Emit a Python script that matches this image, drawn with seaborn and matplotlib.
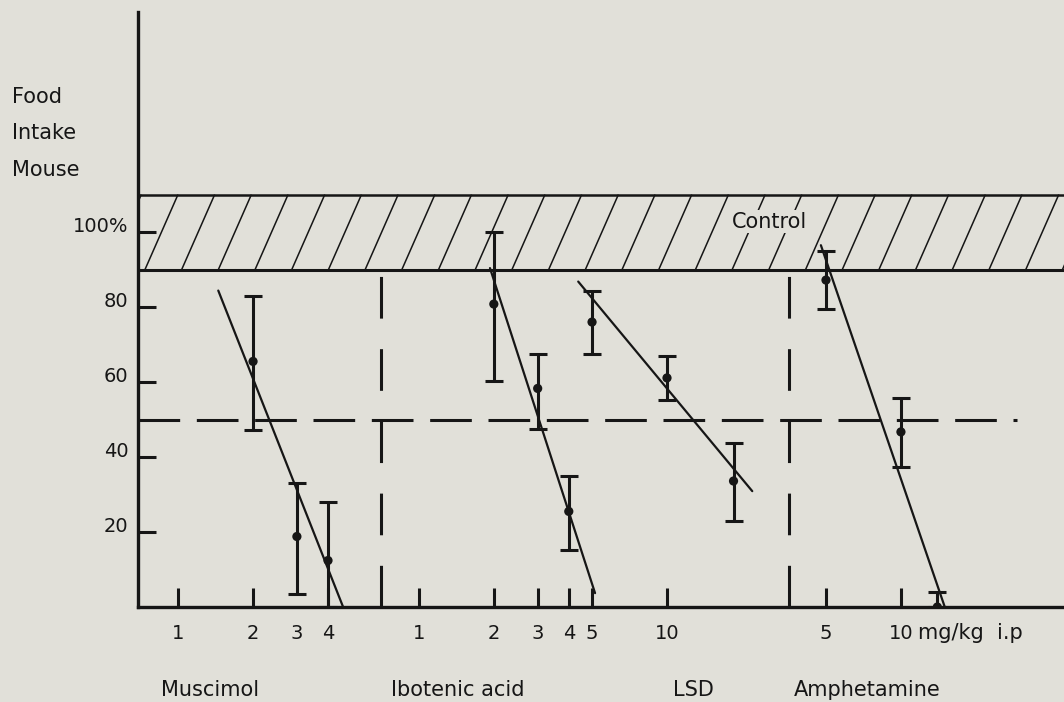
import numpy as np
import pandas as pd
import matplotlib
matplotlib.use("Agg")
import matplotlib.pyplot as plt
import matplotlib.transforms as mtransforms
from matplotlib.collections import LineCollection
import seaborn as sns

# ---------------- data ----------------
drugs = ["Muscimol", "Ibotenic acid", "LSD", "Amphetamine"]

muscimol_dose = [2, 3, 4]
muscimol_mean = [65.5, 18.8, 12.4]
muscimol_hi = [83.0, 33.1, 28.0]
muscimol_lo = [47.2, 3.5, 0.0]
muscimol_fit_dose = [1.45, 4.6]
muscimol_fit = [84.4, 0.0]

ibotenic_dose = [2, 3, 4]
ibotenic_mean = [80.8, 58.3, 25.5]
ibotenic_hi = [100.0, 67.5, 35.0]
ibotenic_lo = [60.2, 47.6, 15.3]
ibotenic_fit_dose = [1.93, 5.1]
ibotenic_fit = [90.4, 3.7]

lsd_dose = [5, 10, 18.5]
lsd_mean = [76.0, 61.1, 33.6]
lsd_hi = [84.4, 66.9, 43.7]
lsd_lo = [67.4, 55.2, 22.9]
lsd_fit_dose = [4.4, 22.0]
lsd_fit = [86.8, 30.9]

amph_dose = [5, 10, 14]
amph_mean = [87.2, 46.7, 0.0]
amph_hi = [94.9, 55.7, 4.0]
amph_lo = [79.5, 37.4, 0.0]
amph_fit_dose = [4.77, 15.0]
amph_fit = [96.5, 0.0]

muscimol_ticks = [1, 2, 3, 4]
ibotenic_ticks = [1, 2, 3, 4]
lsd_ticks = [5, 10]
amph_ticks = [5, 10]

y_ticks = [20, 40, 60, 80, 100]
y_tick_labels = ["20", "40", "60", "80", "100%"]

control_band = (90, 110)
half_effect = 50

# ---------------- style ----------------
ink = "#161616"
paper = "#e1e0d9"

sns.set_theme(style="white", rc={
    "axes.facecolor": paper,
    "figure.facecolor": paper,
    "lines.scale_dashes": False,
    "xtick.bottom": True,
    "ytick.left": True,
})
plt.rcParams["font.family"] = ["DejaVu Sans"]

# each drug gets its own log-dose segment along one shared x axis (1 unit = 1 decade)
seg_offset = {"Muscimol": 0.161, "Ibotenic acid": 1.128, "LSD": 1.1245, "Amphetamine": 2.064}


def xpos(drug, dose):
    return seg_offset[drug] + np.log10(np.asarray(dose, dtype=float))


groups = {
    "Muscimol": (muscimol_dose, muscimol_mean, muscimol_lo, muscimol_hi, muscimol_fit_dose, muscimol_fit, muscimol_ticks),
    "Ibotenic acid": (ibotenic_dose, ibotenic_mean, ibotenic_lo, ibotenic_hi, ibotenic_fit_dose, ibotenic_fit, ibotenic_ticks),
    "LSD": (lsd_dose, lsd_mean, lsd_lo, lsd_hi, lsd_fit_dose, lsd_fit, lsd_ticks),
    "Amphetamine": (amph_dose, amph_mean, amph_lo, amph_hi, amph_fit_dose, amph_fit, amph_ticks),
}

pts, fits = [], []
for drug in drugs:
    dose, mean, lo, hi, fdose, fval, _ = groups[drug]
    for d, m, l, h in zip(dose, mean, lo, hi):
        pts.append({"drug": drug, "dose": d, "x": float(xpos(drug, d)), "mean": m, "lo": l, "hi": h})
    for d, v in zip(fdose, fval):
        fits.append({"drug": drug, "x": float(xpos(drug, d)), "y": v})
pts = pd.DataFrame(pts)
fits = pd.DataFrame(fits)

# ---------------- figure ----------------
W, H = 1064, 702
fig = plt.figure(figsize=(W / 100, H / 100), dpi=100)
ax = fig.add_axes([138 / W, 95 / H, 926 / W, 595 / H])
xmax = 926 / 249
ax.set_xlim(0, xmax)
ax.set_ylim(0, 158.7)

# control band with steep hatching
lo_c, hi_c = control_band
step, slant = 36.7 / 249, 33 / 249
starts = np.arange(0.028 - 2 * step, xmax + step, step)
hatch = LineCollection([[(s, lo_c), (s + slant, hi_c)] for s in starts],
                       colors=ink, linewidths=1.1, zorder=1)
ax.add_collection(hatch)
ax.axhline(hi_c, color=ink, lw=1.8, zorder=2)
ax.axhline(lo_c, color=ink, lw=2.2, zorder=2)
ax.text(xpos("LSD", 10) + 0.262, 102.7, "Control", fontsize=15, color=ink,
        ha="left", va="center", zorder=3,
        bbox=dict(facecolor=paper, edgecolor="none", pad=1.0))

# 50 % reference line and segment dividers
ax.plot([0, 3.53], [half_effect, half_effect], color=ink, lw=2.2,
        ls=(0, (30, 12)), zorder=2)
ax.vlines([0.976, 2.614], 0, lo_c, colors=ink, lw=2.2,
          linestyles=[(0, (30, 22))], zorder=2)

# regression lines
sns.lineplot(data=fits, x="x", y="y", units="drug", estimator=None,
             color=ink, lw=1.6, ax=ax, zorder=3, legend=False)

# error bars and means
ax.errorbar(pts["x"], pts["mean"],
            yerr=[pts["mean"] - pts["lo"], pts["hi"] - pts["mean"]],
            fmt="none", ecolor=ink, elinewidth=2.2, capsize=6.5, capthick=2.2,
            zorder=4)
sns.scatterplot(data=pts, x="x", y="mean", color=ink, s=44, edgecolor="none",
                ax=ax, zorder=5, legend=False)

# axes
for side in ("top", "right"):
    ax.spines[side].set_visible(False)
for side in ("left", "bottom"):
    ax.spines[side].set_linewidth(2.4)
    ax.spines[side].set_color(ink)
    ax.spines[side].set_zorder(6)

ax.set_yticks(y_ticks, y_tick_labels)
ax.tick_params(axis="y", which="major", left=True, direction="in", length=13,
               width=2.2, color=ink, labelsize=14, labelcolor=ink, pad=7)
shift_up = mtransforms.ScaledTranslation(0, 0.08, fig.dpi_scale_trans)
for lab in ax.get_yticklabels():
    lab.set_transform(lab.get_transform() + shift_up)

xt, xl = [], []
for drug in drugs:
    for t in groups[drug][6]:
        xt.append(float(xpos(drug, t)))
        xl.append(str(t))
ax.set_xticks(xt, xl)
ax.tick_params(axis="x", which="major", bottom=True, direction="in", length=14,
               width=2.2, color=ink, labelsize=14, labelcolor=ink, pad=12)
# the muscimol 3 mg/kg position carries a label only
ax.xaxis.get_major_ticks()[2].tick1line.set_visible(False)
ax.set_xlabel("")
ax.set_ylabel("")

ax.annotate("mg/kg  i.p", xy=(float(xpos("Amphetamine", 10)), 0), xycoords="data",
            xytext=(12, -18.7), textcoords="offset points",
            ha="left", va="center", fontsize=15, color=ink, annotation_clip=False)

# y axis title, stacked
for txt, ypx in zip(["Food", "Intake", "Mouse"], [97, 133, 170]):
    fig.text(12 / W, 1 - ypx / H, txt, fontsize=15, color=ink, ha="left", va="center")

# drug names under the dose scale
for name, cx in zip(drugs, [210, 458, 693, 867]):
    fig.text(cx / W, 1 - 690 / H, name, fontsize=15, color=ink, ha="center", va="center")

fig.savefig("out.png", dpi=100, facecolor=paper)
